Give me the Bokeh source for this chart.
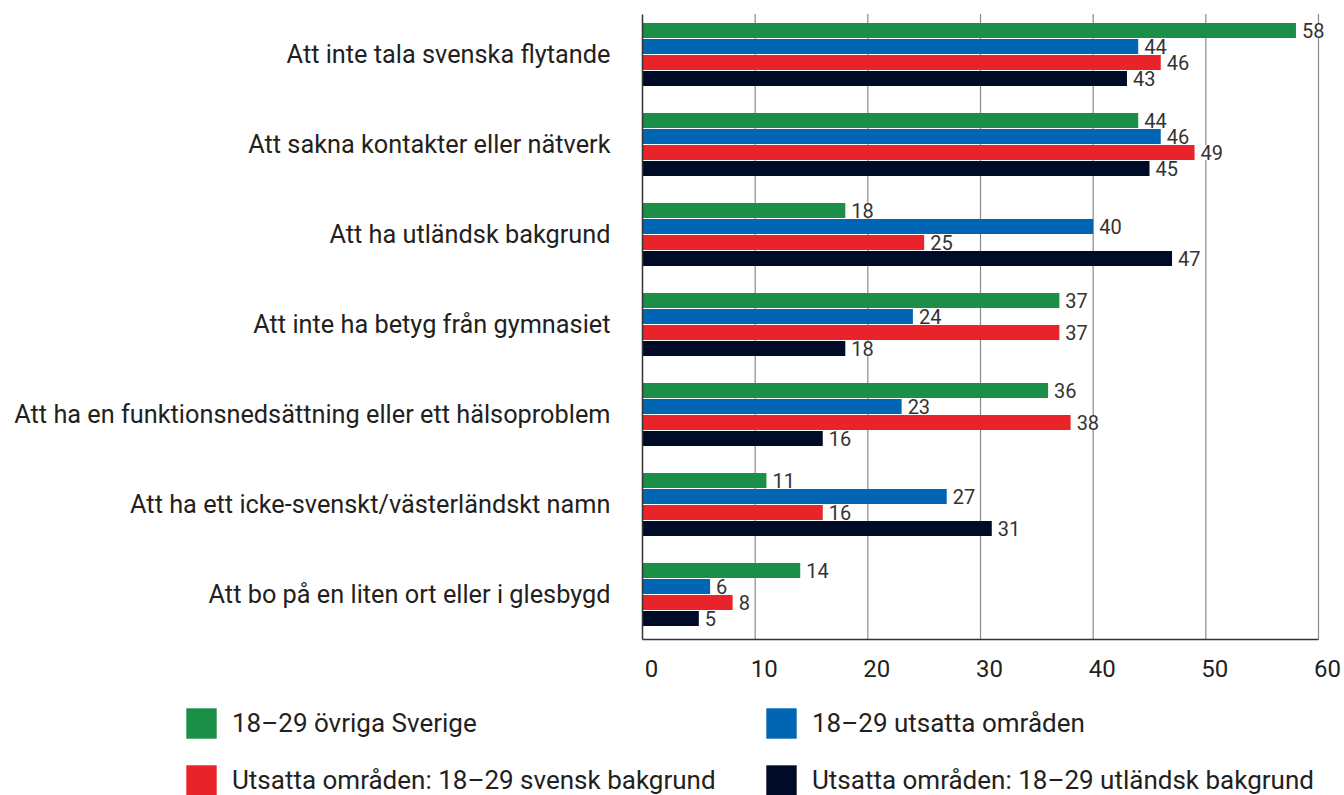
from bokeh.plotting import figure
from bokeh.models import (Range1d, LinearAxis, FixedTicker, ColumnDataSource,
                          LabelSet, Legend, LegendItem)
from bokeh.core.properties import value
from bokeh.transform import dodge
from bokeh.embed import file_html
from bokeh.resources import INLINE

categories = [
    "Att inte tala svenska flytande",
    "Att sakna kontakter eller nätverk",
    "Att ha utländsk bakgrund",
    "Att inte ha betyg från gymnasiet",
    "Att ha en funktionsnedsättning eller ett hälsoproblem",
    "Att ha ett icke-svenskt/västerländskt namn",
    "Att bo på en liten ort eller i glesbygd",
]
series_names = [
    "18–29 övriga Sverige",
    "18–29 utsatta områden",
    "Utsatta områden: 18–29 svensk bakgrund",
    "Utsatta områden: 18–29 utländsk bakgrund",
]
ovriga = [58, 44, 18, 37, 36, 11, 14]
utsatta = [44, 46, 40, 24, 23, 27, 6]
svensk = [46, 49, 25, 37, 38, 16, 8]
utlandsk = [43, 45, 47, 18, 16, 31, 5]
x_ticks = [0, 10, 20, 30, 40, 50, 60]

colors = ["#1b8f47", "#0066b3", "#e8232a", "#000b28"]
FONT = "Roboto"
TEXT = "#231f20"

n = len(categories)
cat_pos = [n - i - 0.5 for i in range(n)]  # first category at the top

series = [ovriga, utsatta, svensk, utlandsk]
keys = ["s0", "s1", "s2", "s3"]
data = {"cat": categories, "pos": cat_pos}
for k, s in zip(keys, series):
    data[k] = s
    data[k + "_t"] = [str(v) for v in s]
src = ColumnDataSource(data)

W, H = 1344, 795
PX_X = 676 / 60.0      # pixels per x unit
PX_Y = 90.0            # pixels per category
X0_PIX, Y0_PIX = 642, 639
x_start, x_end = -X0_PIX / PX_X, (W - X0_PIX) / PX_X
y_start, y_end = -(H - Y0_PIX) / PX_Y, Y0_PIX / PX_Y

p = figure(width=W, height=H,
           x_range=Range1d(x_start, x_end), y_range=Range1d(y_start, y_end),
           x_axis_location=None, y_axis_location=None,
           output_backend="svg", toolbar_location=None,
           min_border=0, outline_line_color=None,
           background_fill_color="white", border_fill_color="white")
for g in p.grid:
    g.visible = False

# vertical gridlines at the x ticks, spanning only the bar area
p.segment(x0=x_ticks[1:], x1=x_ticks[1:], y0=0, y1=n - 0.05,
          line_color="#8a8a8a", line_width=1.2)

# category axis
yax = LinearAxis(ticker=FixedTicker(ticks=cat_pos), fixed_location=0, bounds=(0, n - 0.05),
                 major_label_overrides={pos: c for pos, c in zip(cat_pos, categories)})
yax.axis_line_color = "#333333"
yax.axis_line_width = 1.5
yax.major_tick_line_color = None
yax.minor_tick_line_color = None
yax.major_label_standoff = 26
yax.major_label_text_font = FONT
yax.major_label_text_font_size = "25.3px"
yax.major_label_text_color = TEXT
p.add_layout(yax, "left")

# value axis; labels sit slightly right of their gridlines as in the reference
shift = 0.8
p.extra_x_ranges = {"lab": Range1d(x_start - shift, x_end - shift)}
xax = LinearAxis(x_range_name="lab", ticker=FixedTicker(ticks=x_ticks),
                 fixed_location=0, bounds=(0 - shift, 60 - shift))
xax.axis_line_color = "#333333"
xax.axis_line_width = 1.5
xax.major_tick_line_color = None
xax.minor_tick_line_color = None
xax.major_label_standoff = 14
xax.major_label_text_font = FONT
xax.major_label_text_font_size = "24px"
xax.major_label_text_color = TEXT
p.add_layout(xax, "below")

offsets = [0.267, 0.089, -0.089, -0.267]
renderers = []
for k, off, c in zip(keys, offsets, colors):
    r = p.hbar(y=dodge("pos", off), left=0, right=k,
               height=0.168, color=c, line_color=None, source=src)
    renderers.append(r)
    p.add_layout(LabelSet(x=k, y=dodge("pos", off), text=k + "_t",
                          x_offset=6, text_baseline="middle", text_align="left",
                          text_font=value(FONT), text_font_size="20px",
                          text_color="#333333", background_fill_color="white",
                          source=src))

order = [0, 2, 1, 3]
legend = Legend(items=[LegendItem(label=series_names[i], renderers=[renderers[i]])
                       for i in order],
                location=(182, -4), orientation="vertical", ncols=2,
                glyph_width=38, glyph_height=38, spacing=19, padding=0, margin=0,
                border_line_color=None, background_fill_alpha=0,
                label_text_font=FONT, label_text_font_size="26px",
                label_text_color=TEXT, label_standoff=12, label_height=38,
                label_width=511)
p.add_layout(legend, "center")

open("out.html", "w").write(file_html(p, INLINE))
